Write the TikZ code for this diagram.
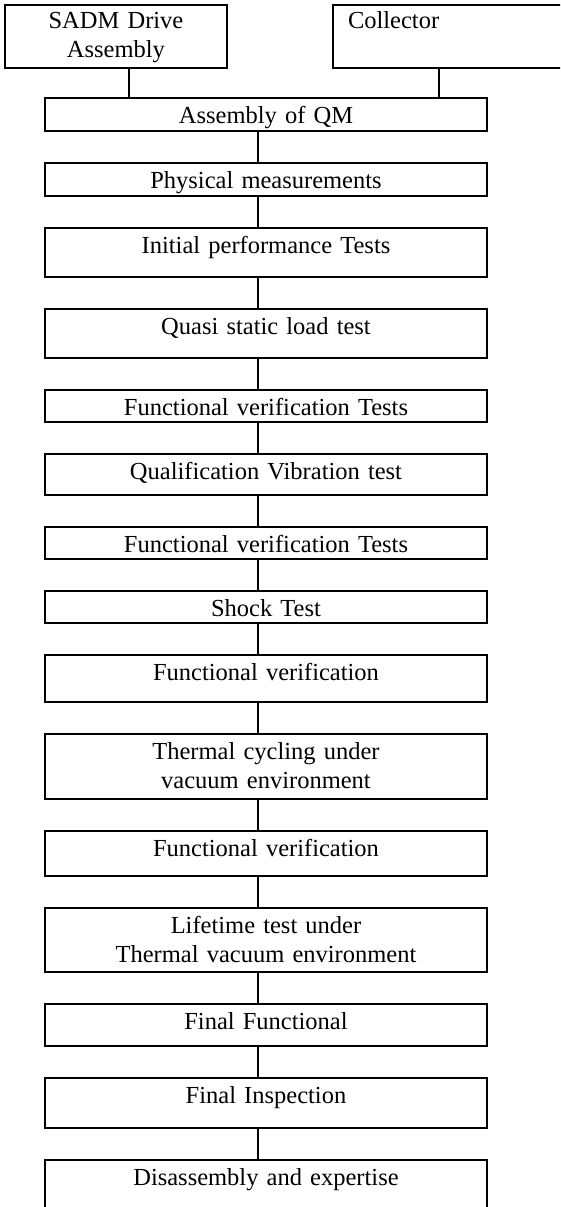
\documentclass[tikz,border=0pt]{standalone}
\usepackage{fontspec}
\setmainfont{Liberation Serif}
\usetikzlibrary{positioning}

\begin{document}
\begin{tikzpicture}[x=1pt,y=-1pt,line width=2pt,
  every node/.style={font=\fontsize{24.5}{29}\selectfont},
  stage/.style={draw,inner sep=0pt,outer sep=0pt,text width=442pt,align=center,text height=25.5pt}]
  \useasboundingbox (0,0) rectangle (560,1207);
  \clip (0,0) rectangle (560,1207);
  % the two inputs
  \node[stage,text width=222pt,text height=24pt,text depth=39pt,anchor=north west] (sadm) at (5,5) {SADM Drive\\Assembly};
  \node[stage,text width=307pt,text height=24pt,text depth=39pt,align=left,anchor=north west] (coll) at (333,5) {\hspace*{15pt}Collector};
  \node[stage,text depth=7.5pt,anchor=north] (b1) at (266,98) {Assembly of QM};
  \draw ([xshift=13pt]sadm.south) -- ([xshift=13pt]sadm.south |- b1.north);
  \draw ([xshift=-47.5pt]coll.south) -- ([xshift=-47.5pt]coll.south |- b1.north);
  % test sequence
  \foreach \i/\p/\d/\t in {2/1/7.5/{Physical measurements},
      3/2/23.5/{Initial performance Tests},
      4/3/23.5/{Quasi static load test},
      5/4/6.5/{Functional verification Tests},
      6/5/15.5/{Qualification Vibration test},
      7/6/6.5/{Functional verification Tests},
      8/7/6.5/{Shock Test},
      9/8/21.5/{Functional verification},
      10/9/39.5/{Thermal cycling under\\vacuum environment},
      11/10/19.5/{Functional verification},
      12/11/38.5/{Lifetime test under\\Thermal vacuum environment},
      13/12/16.5/{Final Functional},
      14/13/24.5/{Final Inspection},
      15/14/54.5/{Disassembly and expertise}}{
    \node[stage,text depth=\d pt,below=32pt of b\p] (b\i) {\t};
    \draw ([xshift=-8pt]b\p.south) -- ([xshift=-8pt]b\i.north);
  }
\end{tikzpicture}
\end{document}
